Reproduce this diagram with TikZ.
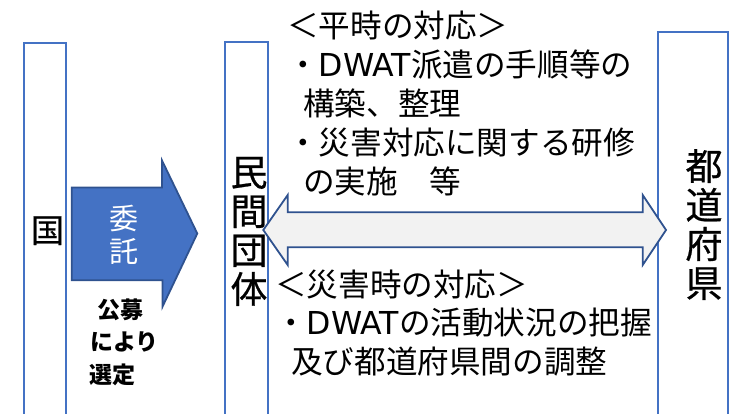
\documentclass[tikz,border=0pt]{standalone}
\usepackage{fontspec}
\setmainfont{Noto Sans CJK JP}
\newfontfamily\jpheavy{Noto Sans CJK JP}[FakeBold=0.6]
\newfontfamily\latinfont{DejaVu Sans}
\newcommand{\dwat}{{\latinfont DWAT}}
\definecolor{panelblue}{HTML}{4472C4}
\definecolor{edgeblue}{HTML}{2F528F}
\definecolor{shaftgray}{HTML}{F2F2F2}
\begin{document}
\begin{tikzpicture}[x=1pt,y=-1pt,
  panel/.style={draw=panelblue, line width=2pt, fill=white, anchor=north west,
    inner sep=0pt, outer sep=0pt, minimum height=420pt},
  mainarrow/.style={draw=edgeblue, line width=1.8pt, fill=panelblue, line join=miter},
  dblarrow/.style={draw=edgeblue, line width=1.8pt, fill=shaftgray, line join=miter},
  txt/.style={font=\fontsize{31.6}{38.8}\selectfont, anchor=base west, inner sep=0pt},
  vlabel/.style={font=\fontsize{37}{39}\selectfont\jpheavy, anchor=base, inner sep=0pt},
  smallbold/.style={font=\fontsize{23}{32}\selectfont\bfseries, anchor=base west, inner sep=0pt}
]
\useasboundingbox (0,0) rectangle (733,414);
\clip (0,0) rectangle (733,414);

% panels
\node[panel, minimum width=42pt] (kuni) at (24.3,42.7) {};
\node[panel, minimum width=43pt] (minkan) at (225,42.3) {};
\node[panel, minimum width=70pt] (pref) at (658.3,32.3) {};

% commission arrow
\draw[mainarrow] (71.7,187.5) -- (162,187.5) -- (162,160.5) -- (197.3,233.5)
  -- (162.5,306.7) -- (162.5,280.3) -- (71.7,280.3) -- cycle;

% double arrow
\draw[dblarrow] (263.3,230) -- (287.7,195) -- (287.7,212.3) -- (642.7,212.3)
  -- (642.7,195) -- (666,230) -- (642.7,265) -- (642.7,247.3) -- (287.7,247.3)
  -- (287.7,265) -- cycle;

% labels
\node[font=\fontsize{33}{36}\selectfont\jpheavy, anchor=base, inner sep=0pt] (kunilabel) at (47.5,242.5) {国};
\node[font=\fontsize{29}{32}\selectfont, anchor=base, inner sep=0pt, text=white] (itaku1) at (123.5,229.5) {委};
\node[font=\fontsize{29}{32}\selectfont, anchor=base, inner sep=0pt, text=white] (itaku2) at (123.5,262) {託};
\node[smallbold] (kobo1) at (97,318.7) {公募};
\node[smallbold] (kobo2) at (90,350.7) {により};
\node[smallbold] (kobo3) at (89,383.7) {選定};

\foreach \c [count=\i from 0] in {民,間,団,体}
  \node[vlabel] (mk\i) at (249, 186+39*\i) {\c};
\foreach \c [count=\i from 0] in {都,道,府,県}
  \node[vlabel] (pf\i) at (704, 180+39*\i) {\c};

% peacetime text
\node[txt] (p1) at (287,38) {＜平時の対応＞};
\node[txt] (p2) at (287,76.8) {・\dwat 派遣の手順等の};
\node[txt] (p3) at (303,115.6) {構築、整理};
\node[txt] (p4) at (287,154.4) {・災害対応に関する研修};
\node[txt] (p5) at (303,193.2) {の実施　等};

% disaster time text
\node[txt] (d1) at (275,296) {＜災害時の対応＞};
\node[txt] (d2) at (275,334.5) {・\dwat の活動状況の把握};
\node[txt] (d3) at (291,373) {及び都道府県間の調整};
\end{tikzpicture}
\end{document}
